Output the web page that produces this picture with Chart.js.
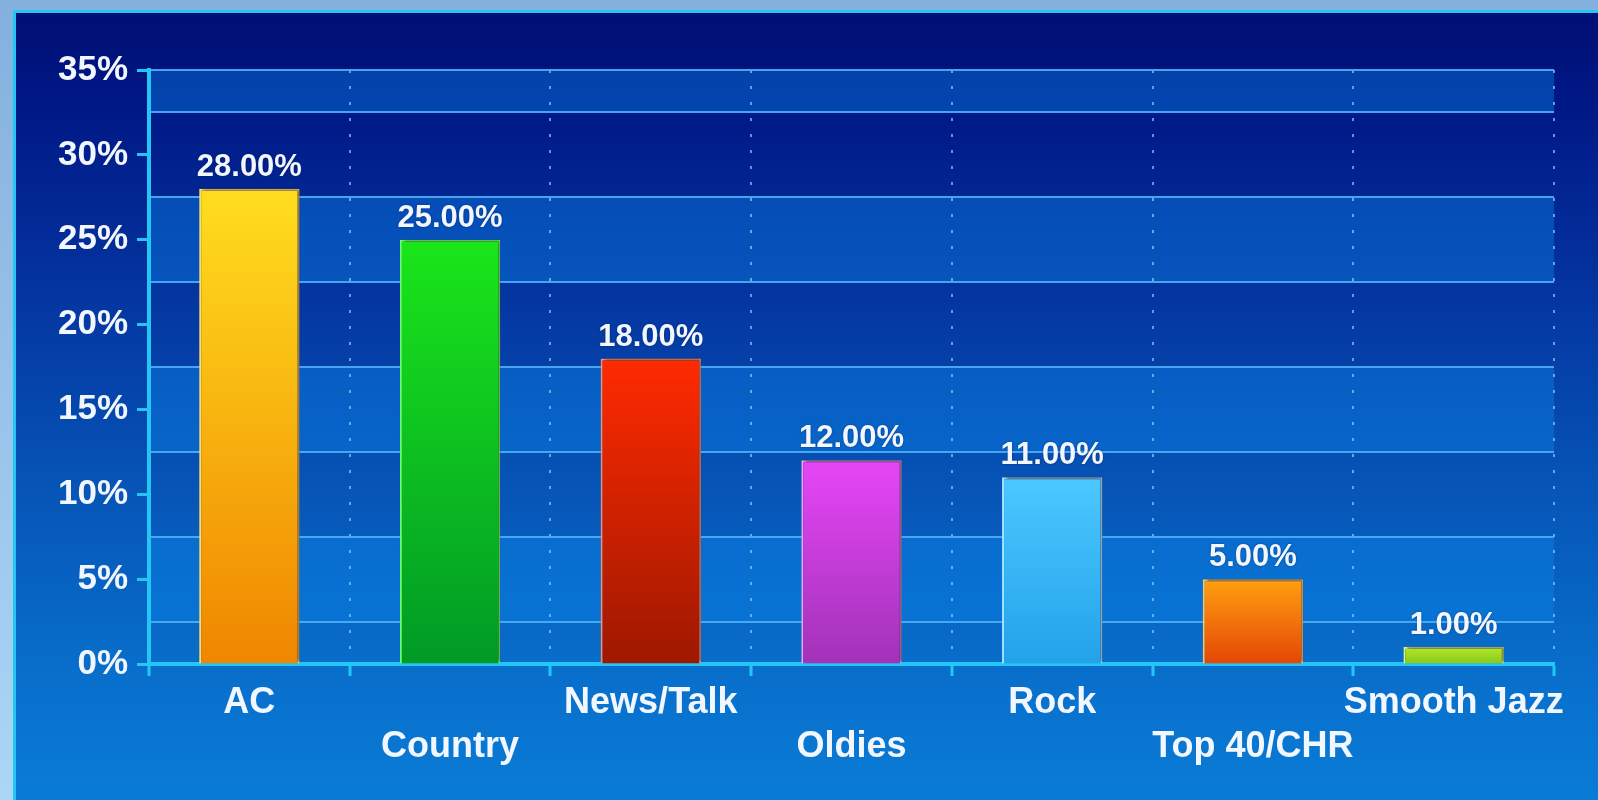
<!DOCTYPE html>
<html>
<head>
<meta charset="utf-8">
<style>
  html, body { margin: 0; padding: 0; background: #88b4e0; }
  #chart { display: block; }
</style>
<script src="https://cdn.jsdelivr.net/npm/chart.js@4.4.1/dist/chart.umd.min.js"></script>
</head>
<body>
<canvas id="chart" width="1598" height="800"></canvas>
<script>
// Radio format share
const categories = ['AC', 'Country', 'News/Talk', 'Oldies', 'Rock', 'Top 40/CHR', 'Smooth Jazz'];
const shares = [28, 25, 18, 12, 11, 5, 1];

// Bar colours: gradient top, gradient bottom, rim
const barTop    = ['#ffde1e', '#1ae61a', '#ff2a00', '#e646f6', '#4cc8ff', '#ffa010', '#b4e82a'];
const barBottom = ['#f08600', '#009a26', '#9e1800', '#a232b8', '#22a2ea', '#e44606', '#86c81a'];
const barRim    = ['#ffe27a', '#66ff66', '#f09070', '#f4a6ff', '#a6e4ff', '#ffc46a', '#e2ff86'];

// Value axis
const yMax = 35;
const yStep = 5;
// Horizontal rules and the lighter stripes between them
const ruleValues = [2.5, 7.5, 12.5, 17.5, 22.5, 27.5, 32.5, 35];
const lightStripes = [[32.5, 35], [22.5, 27.5], [12.5, 17.5], [2.5, 7.5]];

const FONT = '"Liberation Sans", Arial, sans-serif';
const TEXT = '#f2f6ff';
const CYAN = '#24c6f6';

const backdrop = {
  id: 'backdrop',
  beforeDraw(chart) {
    const { ctx, width, height, chartArea, scales } = chart;
    ctx.save();
    const frame = ctx.createLinearGradient(0, 0, 0, height);
    frame.addColorStop(0, '#84b0de');
    frame.addColorStop(1, '#acd6f6');
    ctx.fillStyle = frame;
    ctx.fillRect(0, 0, width, height);

    const px = 13, py = 10;
    const panel = ctx.createLinearGradient(0, py, 0, height);
    panel.addColorStop(0.00, '#000e72');
    panel.addColorStop(0.12, '#001886');
    panel.addColorStop(0.35, '#04349f');
    panel.addColorStop(0.60, '#0654b6');
    panel.addColorStop(0.85, '#0870cc');
    panel.addColorStop(1.00, '#0a7cd6');
    ctx.fillStyle = panel;
    ctx.fillRect(px, py, width - px, height - py);

    ctx.strokeStyle = CYAN;
    ctx.lineWidth = 3;
    ctx.beginPath();
    ctx.moveTo(px + 1.5, height);
    ctx.lineTo(px + 1.5, py + 1.5);
    ctx.lineTo(width, py + 1.5);
    ctx.stroke();

    const y = scales.y;
    ctx.fillStyle = 'rgba(10, 134, 236, 0.4)';
    lightStripes.forEach(([lo, hi]) => {
      const top = y.getPixelForValue(hi);
      const bot = y.getPixelForValue(lo);
      ctx.fillRect(chartArea.left, top, chartArea.right - chartArea.left, bot - top);
    });
    ctx.restore();
  }
};

const valueLabels = {
  id: 'valueLabels',
  beforeDatasetsDraw(chart) {
    const ctx = chart.ctx;
    ctx.save();
    ctx.shadowColor = 'rgba(40, 0, 0, 0.55)';
    ctx.shadowBlur = 3;
    ctx.shadowOffsetX = 2;
    ctx.shadowOffsetY = -2;
  },
  afterDatasetsDraw(chart) {
    const ctx = chart.ctx;
    ctx.restore();
    ctx.save();
    ctx.font = 'bold 31px ' + FONT;
    ctx.fillStyle = TEXT;
    ctx.textAlign = 'center';
    ctx.textBaseline = 'alphabetic';
    ctx.shadowColor = 'rgba(0, 10, 60, 0.5)';
    ctx.shadowBlur = 2;
    const meta = chart.getDatasetMeta(0);
    meta.data.forEach((bar, i) => {
      ctx.fillText(shares[i].toFixed(2) + '%', bar.x, bar.y - 13);
    });
    ctx.restore();
  }
};

function barGradient(context) {
  const i = context.dataIndex;
  const chart = context.chart;
  if (!chart.chartArea || context.type !== 'data') return barTop[i];
  const y = chart.scales.y;
  const top = y.getPixelForValue(context.raw);
  const base = y.getPixelForValue(0);
  const g = chart.ctx.createLinearGradient(0, top, 0, base);
  g.addColorStop(0, barTop[i]);
  g.addColorStop(1, barBottom[i]);
  return g;
}

new Chart(document.getElementById('chart'), {
  type: 'bar',
  data: {
    labels: categories,
    datasets: [{
      data: shares,
      backgroundColor: barGradient,
      borderColor: barRim,
      borderWidth: 2,
      barPercentage: 0.5,
      categoryPercentage: 1.0
    }]
  },
  options: {
    responsive: false,
    devicePixelRatio: 1,
    animation: false,
    layout: { padding: { top: 70, right: 44, bottom: 0, left: 0 } },
    plugins: { legend: { display: false }, tooltip: { enabled: false } },
    scales: {
      x: {
        afterFit(s) { s.height = 136; },
        grid: {
          offset: true,
          color: (c) => (c.index === 0 ? 'rgba(0,0,0,0)' : 'rgba(150, 200, 245, 0.7)'),
          lineWidth: 2,
          drawTicks: true,
          tickLength: 12,
          tickColor: CYAN,
          tickWidth: 3,
          tickBorderDash: []
        },
        border: { display: true, color: CYAN, width: 4, dash: [3, 13] },
        ticks: {
          color: TEXT,
          padding: 5,
          maxRotation: 0,
          autoSkip: false,
          font: { family: FONT, size: 36, weight: 'bold', lineHeight: '44px' },
          callback(value, index) {
            const label = categories[index];
            return index % 2 === 0 ? label : ['', label];
          }
        }
      },
      y: {
        min: 0,
        max: yMax,
        afterFit(s) { s.width = 149; },
        grid: {
          drawOnChartArea: false,
          drawTicks: true,
          tickLength: 12,
          tickColor: CYAN,
          tickWidth: 3
        },
        border: { display: true, color: CYAN, width: 4 },
        ticks: {
          stepSize: yStep,
          padding: 9,
          color: TEXT,
          font: { family: FONT, size: 35, weight: 'bold' },
          callback: (v) => v + '%'
        }
      },
      rules: {
        type: 'linear',
        position: 'right',
        min: 0,
        max: yMax,
        afterFit(s) { s.width = 0; },
        afterBuildTicks(s) { s.ticks = ruleValues.map((v) => ({ value: v })); },
        grid: { color: 'rgba(80, 175, 245, 0.9)', lineWidth: 2, drawTicks: false },
        border: { display: false },
        ticks: { display: false }
      }
    }
  },
  plugins: [backdrop, valueLabels]
});
</script>
</body>
</html>
